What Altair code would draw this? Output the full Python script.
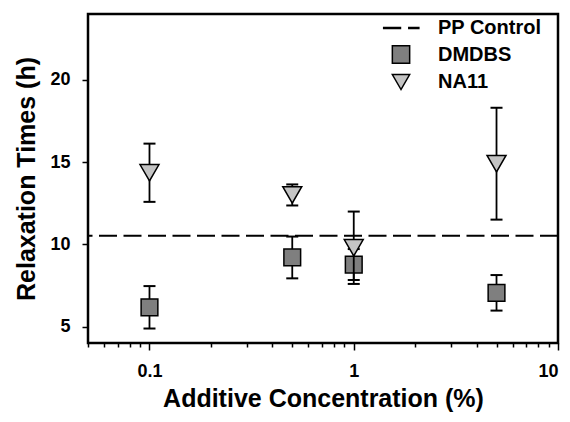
import altair as alt
import pandas as pd

# ---- data ----
conc = [0.1, 0.5, 1, 5]
dmdbs_mean = [6.17, 9.20, 8.77, 7.05]
dmdbs_err = [1.29, 1.27, 0.94, 1.08]
na11_mean = [14.35, 13.00, 9.79, 14.90]
na11_err = [1.77, 0.64, 2.20, 3.40]
pp_control = 10.52

series = ["PP Control", "DMDBS", "NA11"]
series_fill = ["black", "#7f7f7f", "#c4c4c4"]
x_major = [0.1, 1, 10]
x_minor = [0.05, 0.06, 0.07, 0.08, 0.09, 0.2, 0.3, 0.4, 0.5, 0.6, 0.7, 0.8, 0.9,
           2, 3, 4, 5, 6, 7, 8, 9]
y_ticks = [5, 10, 15, 20]

FONT = "Liberation Sans"
dash_path = "M-2,-0.07H-0.06V0.07H-2Z M0.9,-0.07H2.06V0.07H0.9Z"


def frame(name, means, errs):
    return pd.DataFrame({
        "conc": conc,
        "mean": means,
        "lo": [m - e for m, e in zip(means, errs)],
        "hi": [m + e for m, e in zip(means, errs)],
        "series": [name] * len(conc),
    })


def caps(df):
    a = df[["conc", "lo", "series"]].rename(columns={"lo": "v"})
    b = df[["conc", "hi", "series"]].rename(columns={"hi": "v"})
    return pd.concat([a, b], ignore_index=True)


d_df = frame("DMDBS", dmdbs_mean, dmdbs_err)
n_df = frame("NA11", na11_mean, na11_err)
pp_df = pd.DataFrame({"y": [pp_control]})

xscale = alt.Scale(type="log", domain=[0.05, 10], nice=False)
yscale = alt.Scale(domain=[4, 24], nice=False, zero=False)

major_test = "datum.value == 0.1 || datum.value == 1 || datum.value == 10"
xaxis = alt.Axis(
    values=sorted(x_major + x_minor),
    labelExpr="datum.value == 0.1 ? '0.1' : datum.value == 1 ? '1' : datum.value == 10 ? '10' : ''",
    tickSize={"condition": {"test": major_test, "value": 7}, "value": 4},
    title="Additive Concentration (%)",
    grid=False, domain=False,
    labelPadding=12, titlePadding=6,
)
yaxis = alt.Axis(values=y_ticks, title="Relaxation Times (h)", grid=False,
                 domain=False, tickSize=6, labelPadding=12, titlePadding=10)

X = alt.X("conc:Q", scale=xscale, axis=xaxis)

legend = alt.Legend(
    title=None, orient="none", legendX=303, legendY=4, padding=0,
    labelFont=FONT, labelFontSize=20, labelFontWeight="bold", labelColor="black",
    symbolSize=300, symbolStrokeColor="black", symbolStrokeWidth=1.5,
    labelOffset=27, rowPadding=4.5, symbolOpacity=1,
)
fill_scale = alt.Scale(domain=series, range=series_fill)
shape_scale = alt.Scale(domain=series, range=[dash_path, "square", "triangle-down"])
stroke_scale = alt.Scale(domain=series, range=["black", "black", "black"])

rule = alt.Chart(pp_df).mark_rule(
    strokeDash=[18, 6.5], strokeWidth=2, color="black"
).encode(y=alt.Y("y:Q", scale=yscale, axis=yaxis))


def series_layers(df, size):
    bars = alt.Chart(df).mark_rule(strokeWidth=1.8, color="black").encode(
        x=X, y=alt.Y("lo:Q", scale=yscale), y2="hi:Q")
    cap = alt.Chart(caps(df)).mark_tick(
        orient="horizontal", size=12, thickness=2, color="black", opacity=1
    ).encode(x=X, y=alt.Y("v:Q", scale=yscale))
    pts = alt.Chart(df).mark_point(
        filled=False, size=size, strokeWidth=1.5, opacity=1,
        fillOpacity=1, strokeOpacity=1,
    ).encode(
        x=X, y=alt.Y("mean:Q", scale=yscale),
        shape=alt.Shape("series:N", scale=shape_scale, legend=legend),
        fill=alt.Fill("series:N", scale=fill_scale, legend=legend),
        stroke=alt.Stroke("series:N", scale=stroke_scale, legend=legend),
    )
    return [bars, cap, pts]


chart = alt.layer(
    rule, *series_layers(d_df, 280), *series_layers(n_df, 360)
).properties(
    width=470, height=329,
    background="white",
    autosize=alt.AutoSizeParams(type="none"),
    padding={"left": 80, "top": 6, "right": 4, "bottom": 71},
).configure_view(
    stroke="black", strokeWidth=2.5
).configure_axis(
    labelFont=FONT, labelFontSize=18, labelFontWeight="bold", labelColor="black",
    titleFont=FONT, titleFontSize=25, titleFontWeight="bold", titleColor="black",
    tickColor="black", tickWidth=1.5,
).configure_legend(
    labelFont=FONT, labelFontSize=20, labelFontWeight="bold", labelColor="black",
    symbolStrokeWidth=1.5,
)

chart.save("out.html", embed_options={"renderer": "svg", "actions": False})
